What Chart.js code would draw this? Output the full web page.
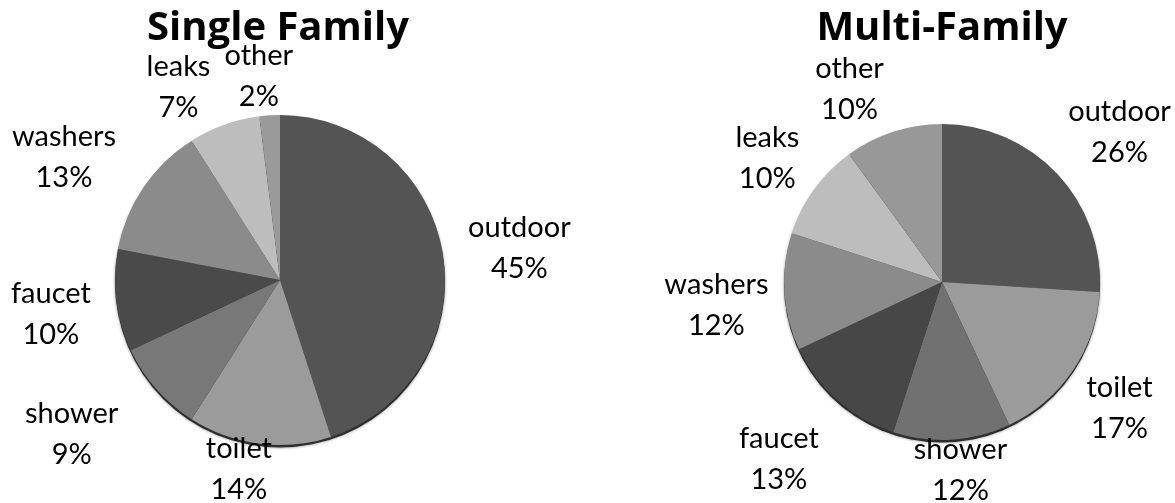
<!DOCTYPE html>
<html>
<head>
<meta charset="utf-8">
<script src="https://cdn.jsdelivr.net/npm/chart.js@4"></script>
<style>
  body { margin: 0; background: #fff; }
  .wrap { position: relative; width: 1175px; height: 503px; overflow: hidden; }
  .pie { position: absolute; top: 0; height: 503px; }
  #single { left: 0; width: 580px; }
  #multi { left: 620px; width: 555px; }
</style>
</head>
<body>
<div class="wrap">
  <div class="pie" id="single"><canvas id="singleChart"></canvas></div>
  <div class="pie" id="multi"><canvas id="multiChart"></canvas></div>
</div>
<script>
// water use by end use, percent
const categories = ['outdoor', 'toilet', 'shower', 'faucet', 'washers', 'leaks', 'other'];
const singleFamily = [45, 14, 9, 10, 13, 7, 2];
const multiFamily = [26, 17, 12, 13, 12, 10, 10];

const singleColors = ['#545454', '#9b9b9b', '#787878', '#4a4a4a', '#8b8b8b', '#bdbdbd', '#9a9a9a'];
const multiColors = ['#545454', '#9b9b9b', '#717171', '#474747', '#8b8b8b', '#bdbdbd', '#989898'];

const labelFont = '29px Lato';
const lineH = 41;

// titles + two-line "name / pct" labels outside each slice
const pieText = {
  id: 'pieText',
  beforeDatasetsDraw(chart, args, opts) {
    // thin dark rim under the pie
    const arc = chart.getDatasetMeta(0).data[0];
    const { x, y, outerRadius } = arc.getProps(['x', 'y', 'outerRadius'], true);
    const ctx = chart.ctx;
    ctx.save();
    ctx.fillStyle = '#2e2e2e';
    ctx.shadowColor = 'rgba(0,0,0,0.5)';
    ctx.shadowBlur = 3;
    ctx.beginPath();
    ctx.arc(x, y + 2.5, outerRadius, 0, Math.PI * 2);
    ctx.fill();
    ctx.restore();
  },
  afterDatasetsDraw(chart, args, opts) {
    const ctx = chart.ctx;
    const W = chart.width, H = chart.height;
    const ds = chart.data.datasets[0];
    ctx.save();
    ctx.fillStyle = '#000';

    ctx.font = 'bold 40px "Open Sans"';
    ctx.textAlign = 'center';
    ctx.textBaseline = 'alphabetic';
    ctx.fillText(opts.title, opts.titleX, 40);

    ctx.font = labelFont;
    ctx.textBaseline = 'middle';
    chart.getDatasetMeta(0).data.forEach((arc, i) => {
      const p = arc.getProps(['x', 'y', 'startAngle', 'endAngle', 'outerRadius'], true);
      const a = (p.startAngle + p.endAngle) / 2;
      const ux = Math.cos(a), uy = Math.sin(a);
      const name = chart.data.labels[i];
      const pct = ds.data[i] + '%';
      const w = Math.max(ctx.measureText(name).width, ctx.measureText(pct).width);
      const h = lineH * 2;
      const d = p.outerRadius + 26;
      let cx = p.x + ux * (d + w / 2);
      let cy = p.y + uy * (d + h / 2);
      cx = Math.min(Math.max(cx, w / 2), W - w / 2);
      cy = Math.min(Math.max(cy, h / 2), H - h / 2);
      const nudge = opts.nudge[i];
      cx += nudge[0];
      cy += nudge[1];
      ctx.fillText(name, cx, cy - lineH / 2);
      ctx.fillText(pct, cx, cy + lineH / 2);
    });
    ctx.restore();
  }
};

function makePie(id, values, colors, padding, text) {
  return new Chart(document.getElementById(id), {
    type: 'pie',
    data: {
      labels: categories,
      datasets: [{
        data: values,
        backgroundColor: colors,
        borderWidth: 0
      }]
    },
    options: {
      responsive: true,
      maintainAspectRatio: false,
      animation: false,
      layout: { padding: padding },
      plugins: {
        legend: { display: false },
        tooltip: { enabled: false },
        pieText: text
      }
    },
    plugins: [pieText]
  });
}

makePie('singleChart', singleFamily, singleColors,
  { left: 115, right: 135, top: 115, bottom: 58 },
  {
    title: 'Single Family', titleX: 278,
    nudge: [[0, 4], [-13, 7], [-30, 1], [0, 5], [-15, 8], [-26, 25], [-7, 28]]
  });

makePie('multiChart', multiFamily, multiColors,
  { left: 164, right: 75, top: 124, bottom: 63 },
  {
    title: 'Multi-Family', titleX: 322,
    nudge: [[6, 4], [-2, 0], [4, 8], [-15, 8], [10, 9], [0, 8], [-25, 21]]
  });
</script>
</body>
</html>
